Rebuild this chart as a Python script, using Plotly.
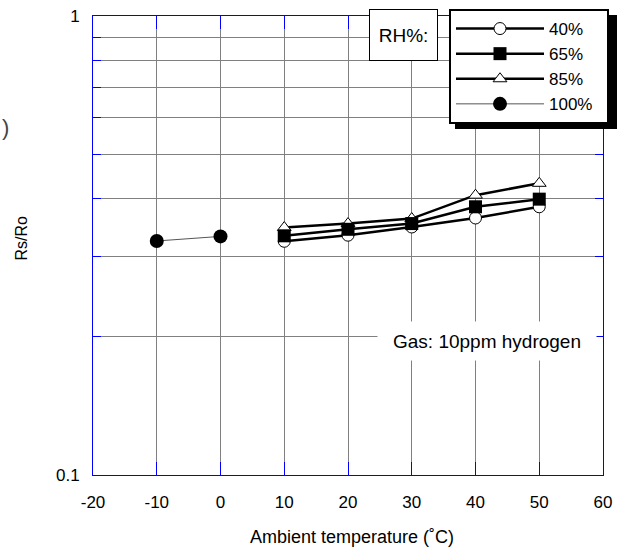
import plotly.graph_objects as go

# ---- data ----
temps = [10, 20, 30, 40, 50]
rh40 = [0.323, 0.333, 0.347, 0.363, 0.384]
rh65 = [0.332, 0.343, 0.353, 0.384, 0.399]
rh85 = [0.346, 0.353, 0.362, 0.407, 0.432]
temps100 = [-10, 0]
rh100 = [0.3235, 0.331]

x_ticks = [-20, -10, 0, 10, 20, 30, 40, 50, 60]
x_ticktext = ["-20", "-10", "0", "10", "20", "30", "40", "50", "60"]
y_ticks = [0.1, 0.2, 0.3, 0.4, 0.5, 0.6, 0.7, 0.8, 0.9, 1.0]
y_ticktext = ["0.1", "", "", "", "", "", "", "", "", "1"]

FONT = "Liberation Sans, Arial, sans-serif"
W, H = 621, 552
L, R, T, B = 93, 18, 16, 77
PW, PH = W - L - R, H - T - B


def px(xp):
    return (xp - L) / PW


def py(yp):
    return (H - B - yp) / PH


fig = go.Figure()

fig.add_trace(go.Scatter(
    x=temps, y=rh40, name="40%", mode="lines+markers", legendrank=1,
    line=dict(color="black", width=2.5),
    marker=dict(symbol="circle", size=12, color="white", line=dict(color="black", width=1)),
))
fig.add_trace(go.Scatter(
    x=temps, y=rh85, name="85%", mode="lines+markers", legendrank=3,
    line=dict(color="black", width=2.5),
    marker=dict(symbol="triangle-up", size=12, color="white", line=dict(color="black", width=1)),
))
fig.add_trace(go.Scatter(
    x=temps, y=rh65, name="65%", mode="lines+markers", legendrank=2,
    line=dict(color="black", width=2.5),
    marker=dict(symbol="square", size=13, color="black"),
))
fig.add_trace(go.Scatter(
    x=temps100, y=rh100, name="100%\u00a0\u00a0", mode="lines+markers", legendrank=4,
    line=dict(color="#555555", width=1),
    marker=dict(symbol="circle", size=14, color="black"),
))

axis_common = dict(
    showline=True, linecolor="#0000ff", linewidth=1, mirror="ticks",
    ticks="inside", tickcolor="#0000ff", tickwidth=1,
    showgrid=True, gridcolor="#808080", gridwidth=1, zeroline=False,
    tickfont=dict(family=FONT, size=17, color="black"),
)

fig.update_xaxes(
    range=[-20, 60], tickvals=x_ticks, ticktext=x_ticktext, ticklen=13,
    ticklabelstandoff=12, **axis_common,
)
fig.update_yaxes(
    type="log", range=[-1, 0], tickvals=y_ticks, ticktext=y_ticktext,
    ticklen=8, ticklabelstandoff=9, **axis_common,
)

# legend shadow
fig.add_shape(type="rect", xref="paper", yref="paper",
              x0=px(455), x1=px(617), y0=py(129), y1=py(15),
              fillcolor="black", line=dict(width=0), layer="above")

ann_common = dict(xref="paper", yref="paper", showarrow=False,
                  xanchor="center", yanchor="middle")
annotations = [
    dict(text="RH%:", x=px(403.5), y=py(35), width=67, height=50, bgcolor="white",
         bordercolor="black", borderwidth=1, borderpad=0,
         font=dict(family=FONT, size=19, color="black"), **ann_common),
    dict(text="Gas: 10ppm hydrogen", x=px(487), y=py(340.5),
         width=218, height=38, bgcolor="white", borderpad=0,
         font=dict(family=FONT, size=19, color="black"), **ann_common),
    dict(text="Ambient temperature (˚C)", x=px(352), y=py(537),
         font=dict(family=FONT, size=18, color="black"), **ann_common),
    dict(text="Rs/Ro", x=px(21), y=py(238.5), textangle=-90,
         font=dict(family=FONT, size=16, color="black"), **ann_common),
    dict(text=")", x=px(5), y=py(127),
         font=dict(family=FONT, size=22, color="#444444"), **ann_common),
]

fig.update_layout(
    width=W, height=H,
    margin=dict(l=L, r=R, t=T, b=B, autoexpand=False),
    paper_bgcolor="white", plot_bgcolor="white",
    showlegend=True,
    legend=dict(
        x=px(449), y=py(9), xanchor="left", yanchor="top",
        bgcolor="white", bordercolor="black", borderwidth=2,
        font=dict(family=FONT, size=17, color="black"),
        itemwidth=88, tracegroupgap=0, traceorder="normal",
    ),
    annotations=annotations,
)

fig.write_html("out.html", config={"displayModeBar": False},
               post_script="document.body.style.margin='0';")
